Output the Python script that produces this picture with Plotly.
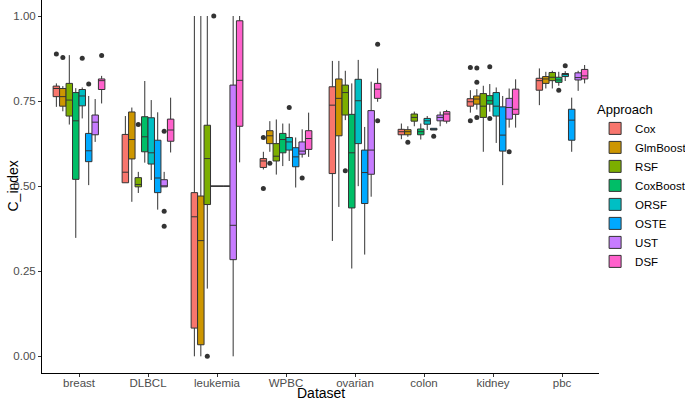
import plotly.graph_objects as go

datasets = ["breast", "DLBCL", "leukemia", "WPBC", "ovarian", "colon", "kidney", "pbc"]
approaches = ["Cox", "GlmBoost", "RSF", "CoxBoost", "ORSF", "OSTE", "UST", "DSF"]
colors = ["#F8766D", "#CD9600", "#7CAE00", "#00BE67", "#00BFC4", "#00A9FF", "#C77CFF", "#FF61CC"]

# per approach: values per dataset (order of `datasets`)
cox_q1 = [0.763, 0.510, 0.083, 0.555, 0.537, 0.651, 0.735, 0.782]
cox_med = [0.787, 0.541, 0.410, 0.574, 0.738, 0.660, 0.748, 0.810]
cox_q3 = [0.794, 0.652, 0.481, 0.581, 0.792, 0.667, 0.757, 0.817]
cox_lo = [0.733, 0.510, 0.000, 0.549, 0.339, 0.638, 0.716, 0.738]
cox_hi = [0.802, 0.706, 1.000, 0.601, 0.868, 0.684, 0.782, 0.846]
cox_out = [[0.888], [], [], [0.643, 0.493], [], [], [0.849, 0.692], []]

glm_q1 = [0.735, 0.580, 0.034, 0.625, 0.648, 0.651, 0.741, 0.802]
glm_med = [0.763, 0.637, 0.340, 0.648, 0.758, 0.660, 0.756, 0.815]
glm_q3 = [0.787, 0.718, 0.471, 0.663, 0.815, 0.666, 0.765, 0.822]
glm_lo = [0.720, 0.454, 0.000, 0.601, 0.439, 0.645, 0.725, 0.787]
glm_hi = [0.794, 0.731, 1.000, 0.691, 0.868, 0.676, 0.785, 0.836]
glm_out = [[0.878], [], [], [0.567], [], [0.629], [0.847, 0.805, 0.702], []]

rsf_q1 = [0.706, 0.498, 0.446, 0.574, 0.709, 0.691, 0.702, 0.810]
rsf_med = [0.753, 0.505, 0.581, 0.588, 0.775, 0.702, 0.735, 0.820]
rsf_q3 = [0.802, 0.525, 0.679, 0.625, 0.797, 0.712, 0.772, 0.834]
rsf_lo = [0.681, 0.480, 0.199, 0.534, 0.694, 0.676, 0.601, 0.787]
rsf_hi = [0.885, 0.542, 1.000, 0.696, 0.839, 0.719, 0.795, 0.839]
rsf_out = [[], [0.681], [0.0], [], [0.545], [], [], []]

cb_q1 = [0.520, 0.601, 0.500, 0.598, 0.436, 0.651, 0.741, 0.805]
cb_med = [0.692, 0.645, 0.500, 0.637, 0.598, 0.660, 0.751, 0.812]
cb_q3 = [0.775, 0.704, 0.500, 0.655, 0.711, 0.668, 0.766, 0.820]
cb_lo = [0.348, 0.569, 0.500, 0.559, 0.258, 0.637, 0.719, 0.795]
cb_hi = [0.788, 0.809, 0.500, 0.684, 0.802, 0.684, 0.800, 0.836]
cb_out = [[], [], [1.0], [], [], [], [0.851, 0.699], [0.782]]

orsf_q1 = [0.736, 0.565, 0.500, 0.606, 0.625, 0.682, 0.706, 0.822]
orsf_med = [0.765, 0.598, 0.500, 0.630, 0.751, 0.692, 0.735, 0.828]
orsf_q3 = [0.784, 0.701, 0.500, 0.643, 0.814, 0.699, 0.775, 0.831]
orsf_lo = [0.699, 0.518, 0.500, 0.574, 0.500, 0.665, 0.627, 0.809]
orsf_hi = [0.790, 0.753, 0.500, 0.684, 0.871, 0.706, 0.790, 0.838]
orsf_out = [[0.876], [], [], [0.731], [], [], [], [0.854]]

oste_q1 = [0.572, 0.481, 0.500, 0.557, 0.449, 0.665, 0.603, 0.635]
oste_med = [0.604, 0.524, 0.500, 0.586, 0.540, 0.667, 0.650, 0.694]
oste_q3 = [0.655, 0.635, 0.500, 0.613, 0.606, 0.670, 0.733, 0.726]
oste_lo = [0.503, 0.431, 0.500, 0.496, 0.299, 0.665, 0.503, 0.601]
oste_hi = [0.765, 0.717, 0.500, 0.643, 0.674, 0.670, 0.765, 0.760]
oste_out = [[0.800], [], [], [], [], [0.647], [], []]

ust_q1 = [0.651, 0.498, 0.284, 0.594, 0.535, 0.692, 0.697, 0.812]
ust_med = [0.688, 0.500, 0.385, 0.603, 0.606, 0.702, 0.731, 0.819]
ust_q3 = [0.709, 0.519, 0.797, 0.630, 0.722, 0.709, 0.758, 0.833]
ust_lo = [0.630, 0.498, 0.000, 0.584, 0.469, 0.676, 0.672, 0.780]
ust_hi = [0.756, 0.542, 1.000, 0.667, 0.807, 0.719, 0.787, 0.839]
ust_out = [[], [0.661, 0.426, 0.382], [], [0.524], [], [], [0.601], []]

dsf_q1 = [0.784, 0.632, 0.676, 0.608, 0.758, 0.691, 0.711, 0.815]
dsf_med = [0.810, 0.665, 0.811, 0.640, 0.785, 0.712, 0.726, 0.824]
dsf_q3 = [0.815, 0.697, 0.986, 0.663, 0.802, 0.719, 0.785, 0.843]
dsf_lo = [0.743, 0.599, 0.570, 0.586, 0.748, 0.684, 0.672, 0.802]
dsf_hi = [0.824, 0.760, 1.000, 0.716, 0.846, 0.724, 0.814, 0.856]
dsf_out = [[0.884], [], [], [], [0.917, 0.692], [], [], []]

y_ticks = [0.0, 0.25, 0.5, 0.75, 1.0]
y_ticklabels = ["0.00", "0.25", "0.50", "0.75", "1.00"]

stats = [
    (cox_q1, cox_med, cox_q3, cox_lo, cox_hi, cox_out),
    (glm_q1, glm_med, glm_q3, glm_lo, glm_hi, glm_out),
    (rsf_q1, rsf_med, rsf_q3, rsf_lo, rsf_hi, rsf_out),
    (cb_q1, cb_med, cb_q3, cb_lo, cb_hi, cb_out),
    (orsf_q1, orsf_med, orsf_q3, orsf_lo, orsf_hi, orsf_out),
    (oste_q1, oste_med, oste_q3, oste_lo, oste_hi, oste_out),
    (ust_q1, ust_med, ust_q3, ust_lo, ust_hi, ust_out),
    (dsf_q1, dsf_med, dsf_q3, dsf_lo, dsf_hi, dsf_out),
]

FONT = "Liberation Sans, Arial, sans-serif"
fig = go.Figure()
for name, col, (q1, med, q3, lo, hi, out) in zip(approaches, colors, stats):
    # empty outlier lists -> [None] so plotly keeps the 2-D sample layout
    pts = [o if len(o) else [None] for o in out]
    fig.add_trace(go.Box(
        name=name,
        x=datasets,
        y=pts,
        q1=q1, median=med, q3=q3,
        lowerfence=lo, upperfence=hi,
        boxpoints="outliers",
        jitter=0, pointpos=0,
        fillcolor=col,
        line=dict(color="#333333", width=1),
        marker=dict(color="#333333", size=5, outliercolor="#333333",
                    line=dict(width=0)),
        whiskerwidth=0,
        offsetgroup=name,
    ))

fig.update_layout(
    width=685, height=400,
    margin=dict(l=42, r=86, t=0, b=27, autoexpand=False),
    paper_bgcolor="white", plot_bgcolor="white",
    boxmode="group", boxgap=0.25, boxgroupgap=0,
    font=dict(family=FONT, size=12, color="#000000"),
    showlegend=True,
    legend=dict(
        title=dict(text="Approach", font=dict(size=13, color="#000000")),
        x=0.993, xanchor="left", y=0.5, yanchor="middle",
        font=dict(size=11.5, color="#000000"),
        tracegroupgap=0, itemwidth=30,
        bgcolor="rgba(0,0,0,0)",
    ),
    xaxis=dict(
        automargin=False,
        categoryorder="array", categoryarray=datasets,
        showline=True, linecolor="#000000", linewidth=1,
        ticks="outside", ticklen=3, tickcolor="#333333",
        ticklabelstandoff=-4,
        tickfont=dict(size=11.5, color="#4D4D4D"),
        showgrid=False, zeroline=False,
    ),
    yaxis=dict(
        automargin=False,
        range=[-0.049, 1.047],
        tickvals=y_ticks, ticktext=y_ticklabels,
        showline=True, linecolor="#000000", linewidth=1,
        ticks="outside", ticklen=3, tickcolor="#333333",
        tickfont=dict(size=11.5, color="#4D4D4D"),
        showgrid=False, zeroline=False,
    ),
    annotations=[
        dict(text="Dataset", xref="paper", yref="paper", x=0.5, xanchor="center",
             y=-27 / 373, yanchor="bottom", yshift=-3, showarrow=False,
             font=dict(size=14, color="#000000")),
        dict(text="C_index", xref="paper", yref="paper", x=-30 / 557, xanchor="center",
             y=0.5, yanchor="middle", textangle=-90, showarrow=False,
             font=dict(size=14, color="#000000")),
    ],
)

fig.write_html("out.html", config={"displayModeBar": False},
               post_script="document.body.style.margin='0';")
